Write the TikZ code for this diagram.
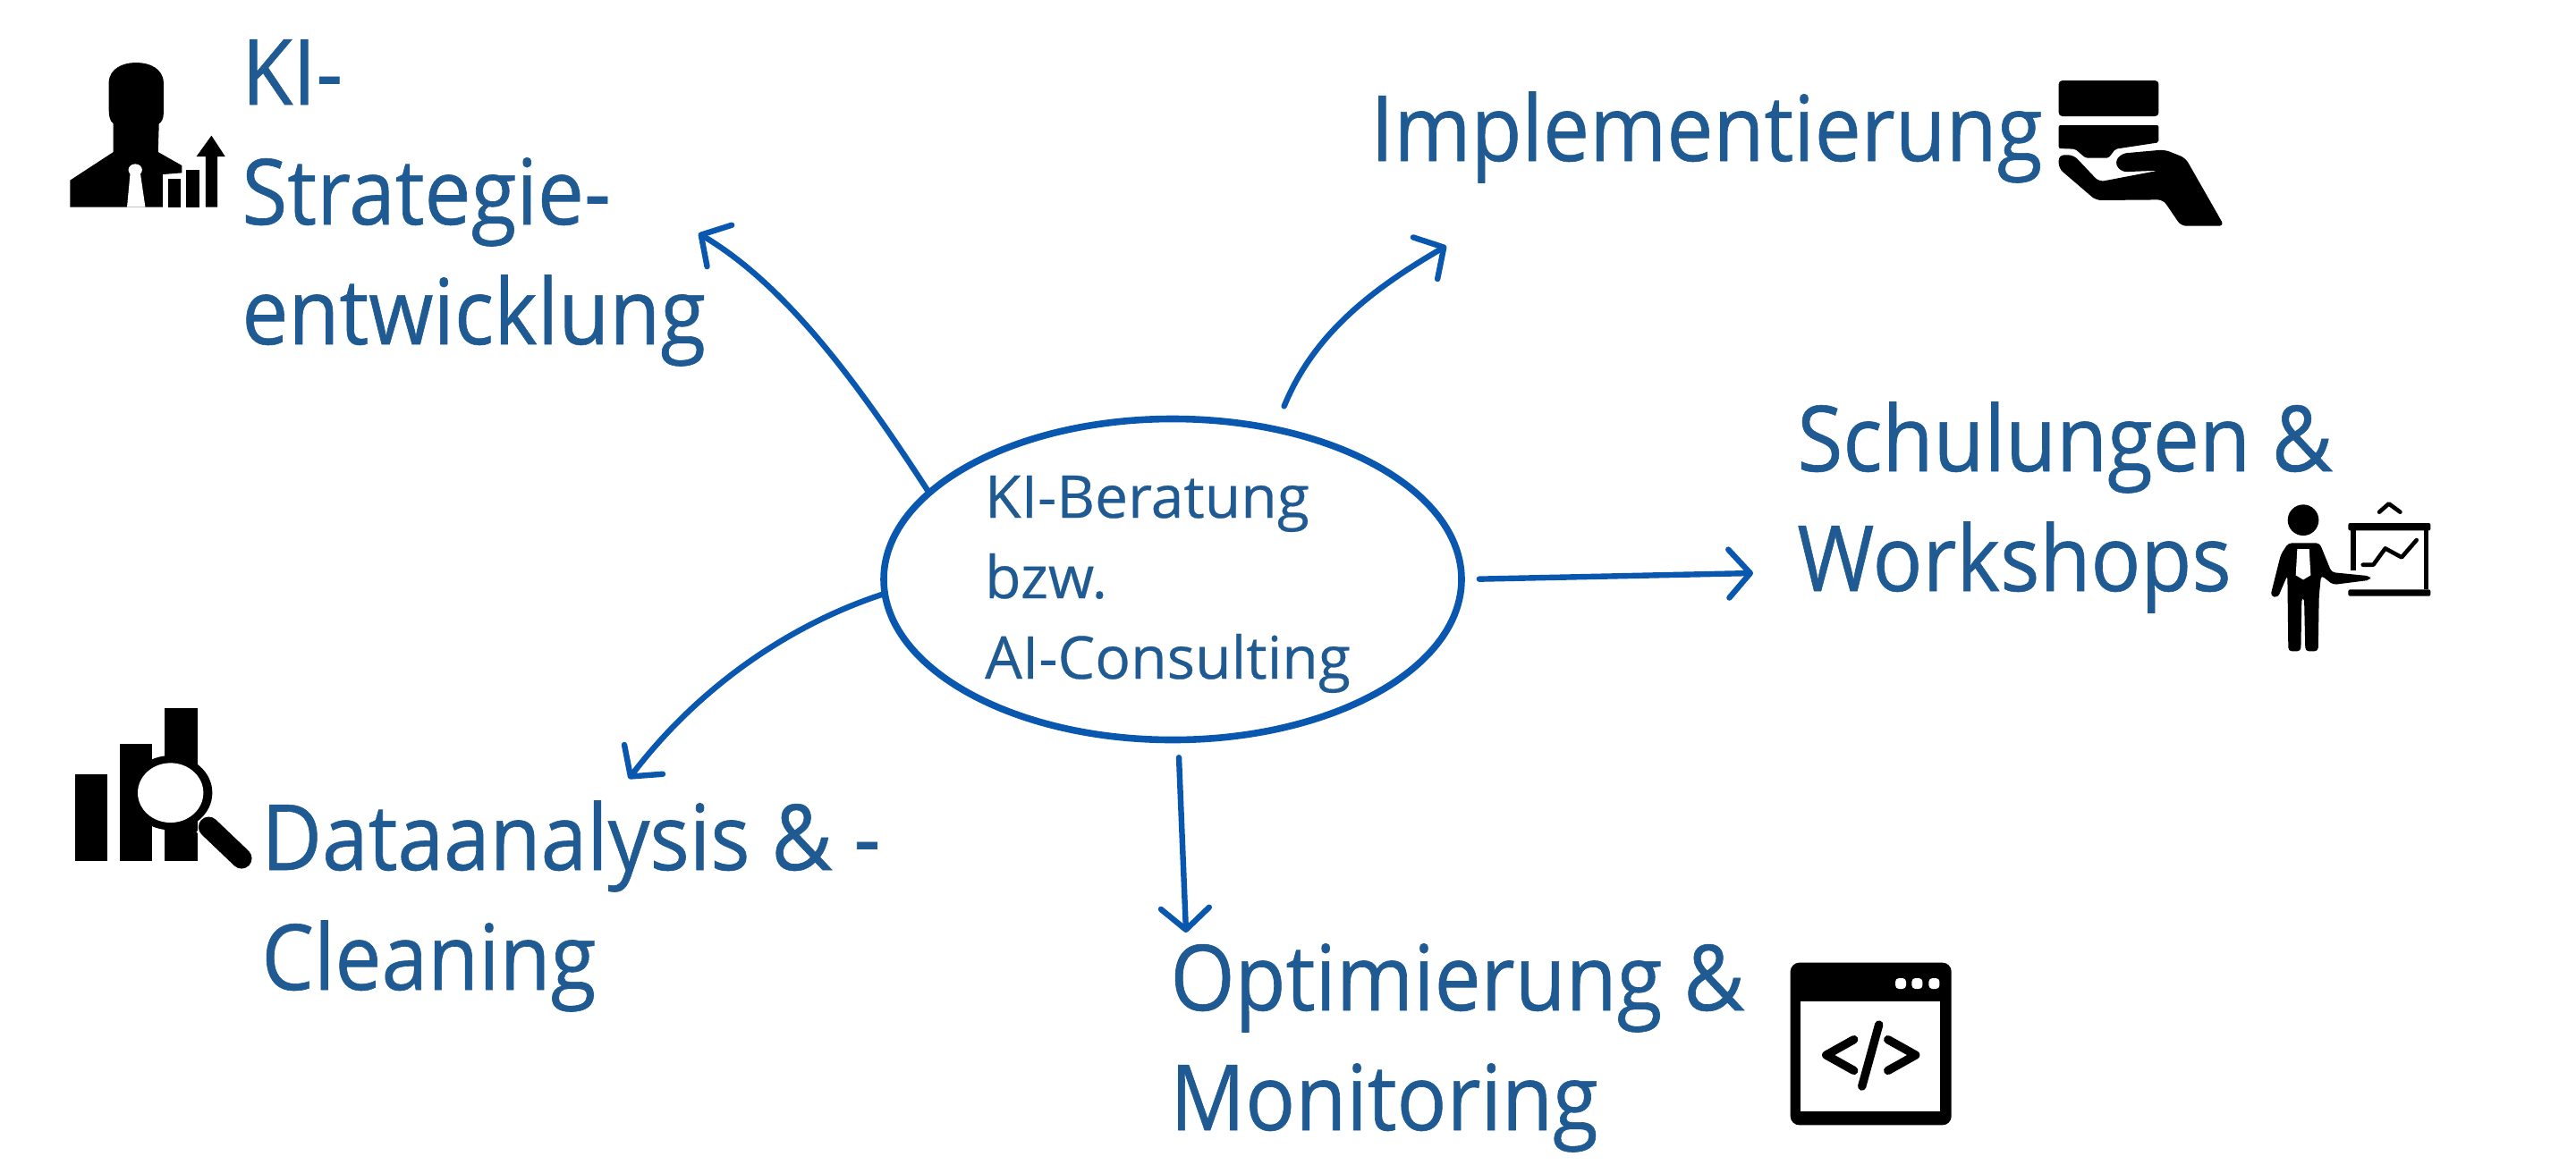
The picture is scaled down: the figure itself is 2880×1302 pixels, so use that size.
\documentclass[tikz,border=0pt]{standalone}
\usepackage{fontspec}
\setmainfont[FakeStretch=0.91,FakeBold=0.6]{Open Sans}
\newfontfamily\hubfont[FakeStretch=1.0,FakeBold=0.4]{Open Sans}
\usetikzlibrary{arrows.meta,shapes.geometric}
\definecolor{inkblue}{HTML}{1F5B92}
\definecolor{linkblue}{HTML}{0A57B0}
\tikzset{
  biglabel/.style={text=inkblue,anchor=base west,inner sep=0pt,align=left,
    font=\fontsize{51pt}{67pt}\selectfont},
  hub/.style={ellipse,draw=linkblue,line width=3.8pt,minimum width=323pt,minimum height=165pt,
    inner sep=0pt,text=inkblue,align=left,font=\hubfont\fontsize{33pt}{45pt}\selectfont},
  linkline/.style={draw=linkblue,line width=3.2pt,line cap=round,
    -{Straight Barb[length=12pt,width=27pt,line width=3.2pt,round]}},
  solid icon/.style={fill=black,draw=none},
  stroke icon/.style={draw=black,line cap=round,line join=round},
}
\begin{document}
\begin{tikzpicture}[x=0.5pt,y=-0.5pt]
\useasboundingbox (0,0) rectangle (2880,1302);

% central topic
\node[hub] (core) at (1311,648) {\rule{0pt}{29pt}KI-Beratung\\bzw.\\AI-Consulting\rule{5.5pt}{0pt}};

% surrounding topics, placed at the baseline of their last line
\node[biglabel] (strategy) at (270,385) {KI-\\Strategie-\\entwicklung};
\node[biglabel] (impl) at (1532,180) {Implementierung};
\node[biglabel] (training) at (2009,661) {Schulungen \&\\Workshops};
\node[biglabel] (data) at (292,1107) {Dataanalysis \& -\\Cleaning};
\node[biglabel] (opt) at (1308,1264) {Optimierung \&\\Monitoring};

% free ends of the connectors
\coordinate (strategyTip) at (781,261);
\coordinate (implTip) at (1617,275);
\coordinate (trainingTip) at (1960,641);
\coordinate (dataTip) at (703,871);
\coordinate (optTip) at (1326,1043);

\draw[linkline] (core.160) .. controls (960,430) and (880,320) .. (strategyTip);
\draw[linkline,shorten <=12pt] (core.56) .. controls (1470,370) and (1540,320) .. (implTip);
\draw[linkline,shorten <=8pt] (core.east) -- (trainingTip);
\draw[linkline] (core.183) .. controls (880,700) and (780,770) .. (dataTip);
\draw[linkline,shorten <=8pt] (core.-88) -- (optTip);

% person with rising bar chart
\begin{scope}[shift={(40,20)},x=0.2551pt,y=-0.1667pt]
  \fill[solid icon] (160,300) -- (160,215) .. controls (162,170) and (190,150) .. (220,150)
    .. controls (250,150) and (278,170) .. (280,215) -- (280,320)
    .. controls (280,340) and (275,350) .. (270,355) -- (268,450) -- (320,495) -- (320,520)
    -- (278,525) -- (278,635) -- (75,635) -- (75,545) -- (170,450) -- (170,355)
    .. controls (162,345) and (160,330) .. (160,300) -- cycle;
  \fill[white] (207,520) -- (200,635) -- (240,635) -- (229,520) -- cycle;
  \fill[white] (218,510) ellipse [x radius=15,y radius=20];
  \fill[solid icon] (290,540) rectangle (318,635);
  \fill[solid icon] (330,510) rectangle (358,635);
  \fill[solid icon] (372,635) -- (372,465) -- (352,465) -- (385,395) -- (415,465) -- (398,465) -- (398,635) -- cycle;
\end{scope}

% hand holding a stack
\begin{scope}[shift={(2240,60)},x=0.1667pt,y=-0.1667pt]
  \fill[solid icon,rounded corners=2pt] (185,90) rectangle (520,210);
  \fill[solid icon,rounded corners=1pt] (185,240) -- (520,240) -- (520,298) -- (375,320)
    -- (352,350) -- (275,350) -- (240,320) -- (185,318) -- cycle;
  \fill[solid icon,rounded corners=3pt] (185,340) -- (235,340) -- (320,430) -- (520,392)
    -- (395,397) -- (372,365) -- (395,335) -- (540,322) -- (610,350) -- (740,578)
    -- (595,578) -- (535,490) -- (310,492) -- (185,385) -- cycle;
\end{scope}

% presenter at a board
\begin{scope}[shift={(2500,530)},x=0.1667pt,y=-0.1667pt]
  \fill[solid icon] (225,155) circle [radius=52];
  \fill[solid icon,rounded corners=2pt] (175,232) -- (280,232) -- (320,330) -- (450,343)
    -- (450,356) -- (325,372) -- (285,340) -- (278,410) -- (275,595) -- (232,595) -- (228,415)
    -- (220,415) -- (217,595) -- (175,595) -- (172,340) -- (140,415) -- (115,410) -- (150,270) -- cycle;
  \fill[white] (205,252) -- (245,252) -- (250,340) -- (225,355) -- (200,340) -- cycle;
  \fill[solid icon,rounded corners=1pt] (376,165) rectangle (652,190);
  \fill[solid icon,rounded corners=1pt] (376,388) rectangle (652,410);
  \fill[solid icon] (385,190) rectangle (402,325);
  \fill[solid icon] (630,190) rectangle (645,388);
  \draw[stroke icon,line width=2.3pt] (425,305) -- (460,305) -- (500,250) -- (555,280) -- (605,222);
  \draw[stroke icon,line width=2.3pt] (480,128) -- (512,100) -- (550,128);
\end{scope}

% bars under a magnifier
\begin{scope}[shift={(60,770)},x=0.1667pt,y=-0.1667pt]
  \fill[solid icon] (72,287) rectangle (180,578);
  \fill[solid icon] (222,187) rectangle (330,578);
  \fill[solid icon] (372,67) rectangle (482,578);
  \draw[white,line width=10pt] (500,460) -- (560,520);
  \draw[black,line width=11.5pt,line cap=round] (520,465) -- (630,570);
  \fill[solid icon] (392,350) ellipse [x radius=140,y radius=125];
  \fill[white] (392,350) ellipse [x radius=110,y radius=100];
\end{scope}

% code window
\begin{scope}[shift={(1980,1060)},x=0.1667pt,y=-0.1667pt]
  \fill[solid icon,rounded corners=5pt] (65,50) rectangle (605,595);
  \fill[white] (100,180) rectangle (568,550);
  \foreach \dx in {435,490,547}
    \fill[white,rounded corners=2pt] (\dx-18,102) rectangle (\dx+18,138);
  \draw[stroke icon,line width=4.7pt] (278,308) -- (185,360) -- (278,412);
  \draw[stroke icon,line width=4.7pt] (362,258) -- (305,465);
  \draw[stroke icon,line width=4.7pt] (392,308) -- (485,360) -- (392,412);
\end{scope}
\end{tikzpicture}
\end{document}
